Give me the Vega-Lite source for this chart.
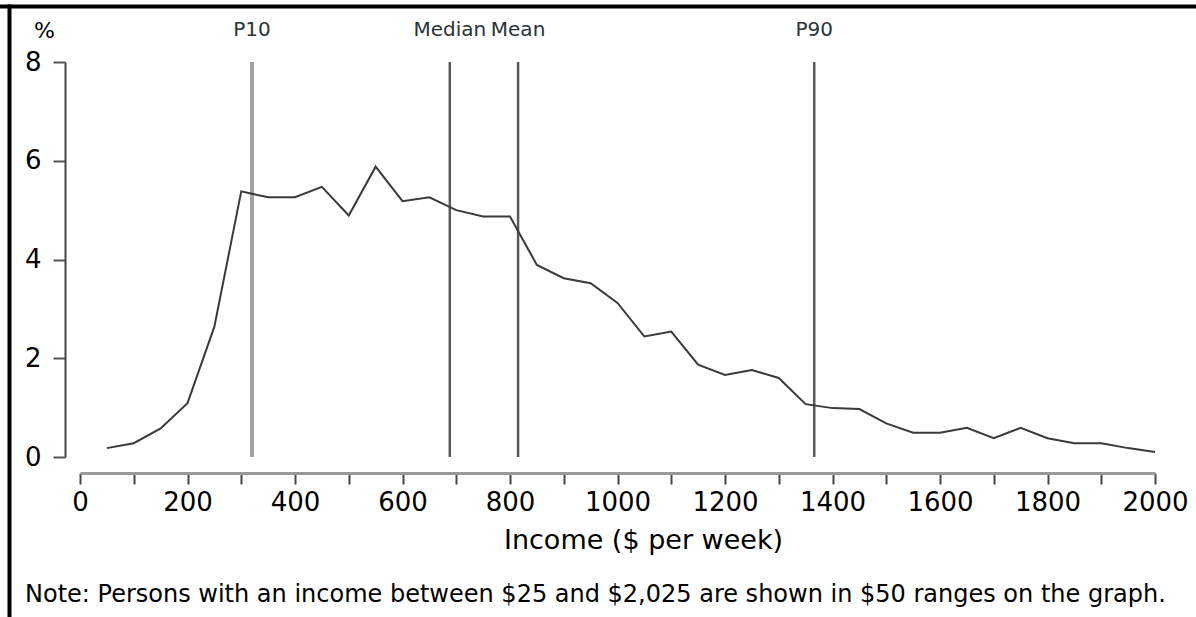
{
  "$schema": "https://vega.github.io/schema/vega-lite/v6.json",
  "width": 1075,
  "height": 395,
  "autosize": {"type": "none"},
  "padding": {"left": 80, "top": 62, "right": 41, "bottom": 160},
  "background": "white",
  "config": {"view": {"stroke": null}, "font": "DejaVu Sans"},
  "datasets": {
    "dist": [
      {"income": 50, "pct": 0.18}, {"income": 100, "pct": 0.28}, {"income": 150, "pct": 0.58},
      {"income": 200, "pct": 1.09}, {"income": 250, "pct": 2.64}, {"income": 300, "pct": 5.38},
      {"income": 350, "pct": 5.26}, {"income": 400, "pct": 5.26}, {"income": 450, "pct": 5.47},
      {"income": 500, "pct": 4.89}, {"income": 550, "pct": 5.88}, {"income": 600, "pct": 5.18},
      {"income": 650, "pct": 5.26}, {"income": 700, "pct": 5.0}, {"income": 750, "pct": 4.87},
      {"income": 800, "pct": 4.87}, {"income": 850, "pct": 3.89}, {"income": 900, "pct": 3.62},
      {"income": 950, "pct": 3.52}, {"income": 1000, "pct": 3.12}, {"income": 1050, "pct": 2.44},
      {"income": 1100, "pct": 2.54}, {"income": 1150, "pct": 1.87}, {"income": 1200, "pct": 1.66},
      {"income": 1250, "pct": 1.76}, {"income": 1300, "pct": 1.6}, {"income": 1350, "pct": 1.07},
      {"income": 1400, "pct": 0.99}, {"income": 1450, "pct": 0.97}, {"income": 1500, "pct": 0.68},
      {"income": 1550, "pct": 0.49}, {"income": 1600, "pct": 0.49}, {"income": 1650, "pct": 0.59},
      {"income": 1700, "pct": 0.38}, {"income": 1750, "pct": 0.59}, {"income": 1800, "pct": 0.38},
      {"income": 1850, "pct": 0.28}, {"income": 1900, "pct": 0.28}, {"income": 1950, "pct": 0.18},
      {"income": 2000, "pct": 0.1}
    ],
    "markers": [
      {"label": "P10", "income": 320},
      {"label": "Median", "income": 688},
      {"label": "Mean", "income": 815},
      {"label": "P90", "income": 1366}
    ],
    "note": [
      {"text": "Note: Persons with an income between $25 and $2,025 are shown in $50 ranges on the graph."}
    ]
  },
  "layer": [
    {
      "data": {"name": "markers"},
      "transform": [{"filter": "datum.label == 'P10'"}],
      "mark": {"type": "rule", "color": "#a3a3a3", "strokeWidth": 4},
      "encoding": {
        "x": {"field": "income", "type": "quantitative", "scale": {"domain": [0, 2000], "nice": false, "zero": false}},
        "y": {"datum": 0, "type": "quantitative", "scale": {"domain": [0, 8], "nice": false}},
        "y2": {"datum": 8}
      }
    },
    {
      "data": {"name": "markers"},
      "transform": [{"filter": "datum.label != 'P10'"}],
      "mark": {"type": "rule", "color": "#5a5a5a", "strokeWidth": 2.5},
      "encoding": {
        "x": {"field": "income", "type": "quantitative"},
        "y": {"datum": 0, "type": "quantitative"},
        "y2": {"datum": 8}
      }
    },
    {
      "data": {"name": "dist"},
      "mark": {"type": "line", "color": "#3a3a3a", "strokeWidth": 2},
      "encoding": {
        "x": {
          "field": "income",
          "type": "quantitative",
          "axis": {
            "values": [0,50,100,150,200,250,300,350,400,450,500,550,600,650,700,750,800,850,900,950,1000,1050,1100,1150,1200,1250,1300,1350,1400,1450,1500,1550,1600,1650,1700,1750,1800,1850,1900,1950,2000],
            "labelExpr": "datum.value % 200 == 0 ? datum.label : ''",
            "format": "d",
            "labelOverlap": false,
            "labelFlush": false,
            "offset": 16,
            "domainColor": "#999999",
            "domainWidth": 3,
            "tickColor": "#444444",
            "tickWidth": 2,
            "tickSize": 11,
            "labelFontSize": 26,
            "labelFont": "DejaVu Sans",
            "labelPadding": 5,
            "labelColor": "black",
            "grid": false,
            "title": "Income ($ per week)",
            "titleFont": "DejaVu Sans",
            "titleFontSize": 27,
            "titleFontWeight": "normal",
            "titleColor": "black",
            "titlePadding": 12,
            "titleX": 563
          }
        },
        "y": {
          "field": "pct",
          "type": "quantitative",
          "axis": {
            "values": [0, 2, 4, 6, 8],
            "offset": 15,
            "domainColor": "#444444",
            "domainWidth": 2,
            "tickColor": "#555555",
            "tickWidth": 2,
            "tickSize": 12,
            "labelFontSize": 26,
            "labelFont": "DejaVu Sans",
            "labelPadding": 12,
            "labelColor": "black",
            "grid": false,
            "title": "%",
            "titleAngle": 0,
            "titleX": -21,
            "titleY": -32,
            "titleAlign": "center",
            "titleBaseline": "middle",
            "titleFont": "DejaVu Sans",
            "titleFontSize": 22,
            "titleFontWeight": "normal",
            "titleColor": "black"
          }
        }
      }
    },
    {
      "data": {"name": "markers"},
      "mark": {"type": "text", "fontSize": 20, "color": "#2b3238", "align": "center", "baseline": "middle", "dy": -32, "font": "DejaVu Sans"},
      "encoding": {
        "x": {"field": "income", "type": "quantitative"},
        "y": {"datum": 8, "type": "quantitative"},
        "text": {"field": "label"}
      }
    },
    {
      "data": {"name": "note"},
      "mark": {"type": "text", "fontSize": 24, "color": "black", "align": "left", "baseline": "alphabetic", "font": "DejaVu Sans", "clip": false},
      "encoding": {
        "x": {"datum": -102.3, "type": "quantitative"},
        "y": {"datum": -2.937, "type": "quantitative"},
        "text": {"field": "text"}
      }
    },
    {
      "data": {"values": [{"edge": "top"}]},
      "mark": {"type": "rule", "color": "black", "strokeWidth": 4, "clip": false},
      "encoding": {
        "x": {"datum": -150, "type": "quantitative"},
        "x2": {"datum": 2120},
        "y": {"datum": 9.124, "type": "quantitative"}
      }
    },
    {
      "data": {"values": [{"edge": "left"}]},
      "mark": {"type": "rule", "color": "black", "strokeWidth": 4, "clip": false},
      "encoding": {
        "x": {"datum": -131.2, "type": "quantitative"},
        "y": {"datum": 9.165, "type": "quantitative"},
        "y2": {"datum": -3.6}
      }
    }
  ]
}
